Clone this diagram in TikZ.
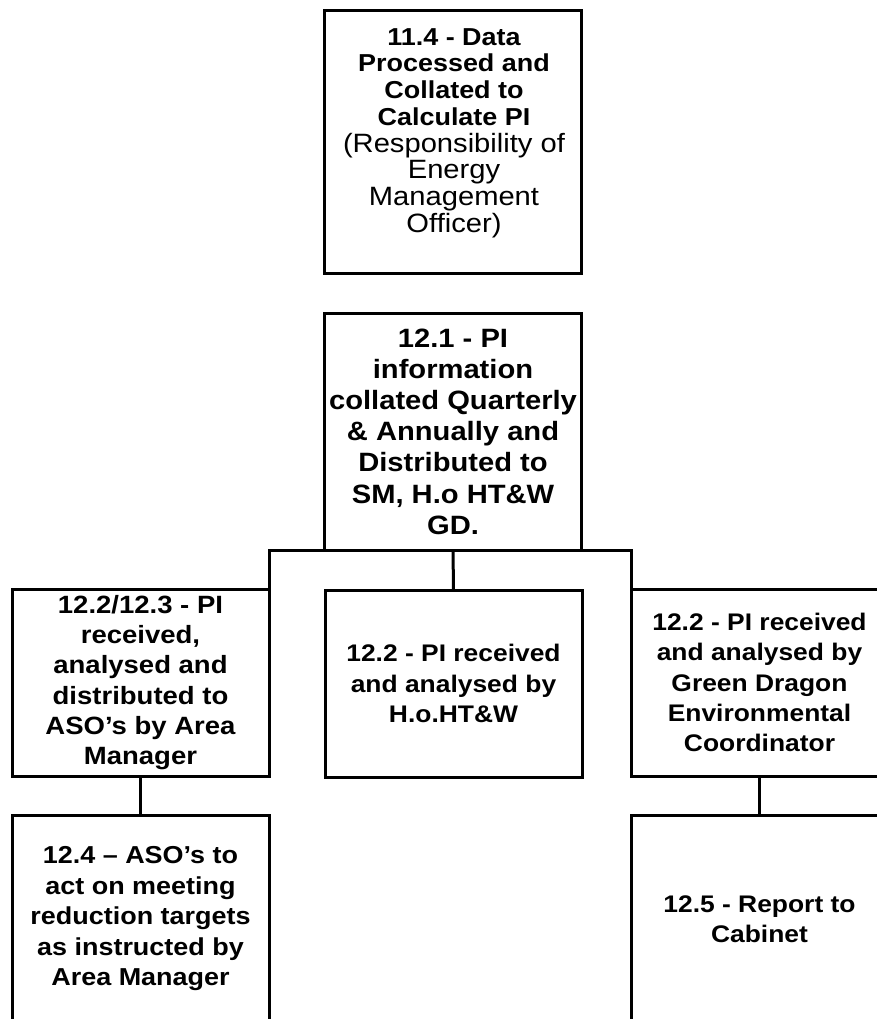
\documentclass[tikz,border=0pt]{standalone}
\usepackage{fontspec}
\setmainfont{Liberation Sans}[FakeStretch=1.1]
\newcommand{\regtxt}{\fontsize{26.5}{26.7}\selectfont\mdseries}
\begin{document}
\begin{tikzpicture}[x=1pt,y=-1pt,
  box/.style={draw=black,line width=3pt,rectangle,inner sep=0pt,outer sep=0pt,
    minimum width=257pt,align=center,font=\fontsize{24}{30.2}\selectfont\bfseries},
  plain/.style={inner sep=0pt,outer sep=0pt,align=center,font=\fontsize{24.5}{26.7}\selectfont\bfseries},
  link/.style={draw=black,line width=3pt}]
\clip (0,0) rectangle (877,1019);
\fill[white] (0,0) rectangle (877,1019);
% 11.4
\node[box,minimum height=262pt] (A) at (452.5,142) {};
\node[plain] (At) at (454,133) {11.4 - Data\\Processed and\\Collated to\\Calculate PI\\{\regtxt (Responsibility of}\\{\regtxt Energy}\\{\regtxt Management}\\{\regtxt Officer)}};
% 12.1
\node[box,minimum height=237pt,font=\fontsize{26.5}{31.2}\selectfont\bfseries] (P) at (453,431.5)
  {12.1 - PI\\information\\collated Quarterly\\\& Annually and\\Distributed to\\SM, H.o HT\&W\\GD.};
% row 2
\node[box,minimum height=187pt,font=\fontsize{25}{30.2}\selectfont\bfseries] (L) at (140.5,682.5)
  {12.2/12.3 - PI\\received,\\analysed and\\distributed to\\ASO’s by Area\\Manager};
\node[box,minimum height=187pt] (M) at (453.5,683.5)
  {12.2 - PI received\\and analysed by\\H.o.HT\&W};
\node[box,minimum height=187pt] (R) at (759.5,682.5)
  {12.2 - PI received\\and analysed by\\Green Dragon\\Environmental\\Coordinator};
% row 3
\node[box,minimum height=208pt,font=\fontsize{24.5}{30.5}\selectfont\bfseries] (BL) at (140.5,919)
  {12.4 – ASO’s to\\act on meeting\\reduction targets\\as instructed by\\Area Manager};
\node[box,minimum height=208pt] (BR) at (759.5,919)
  {12.5 - Report to\\Cabinet};
% connectors
\draw[link] (L.north east) |- (P.south) -| (R.north west);
\draw[link] (P.south) -- (M.north);
\draw[link] (L.south) -- (BL.north);
\draw[link] (R.south) -- (BR.north);
\end{tikzpicture}
\end{document}
